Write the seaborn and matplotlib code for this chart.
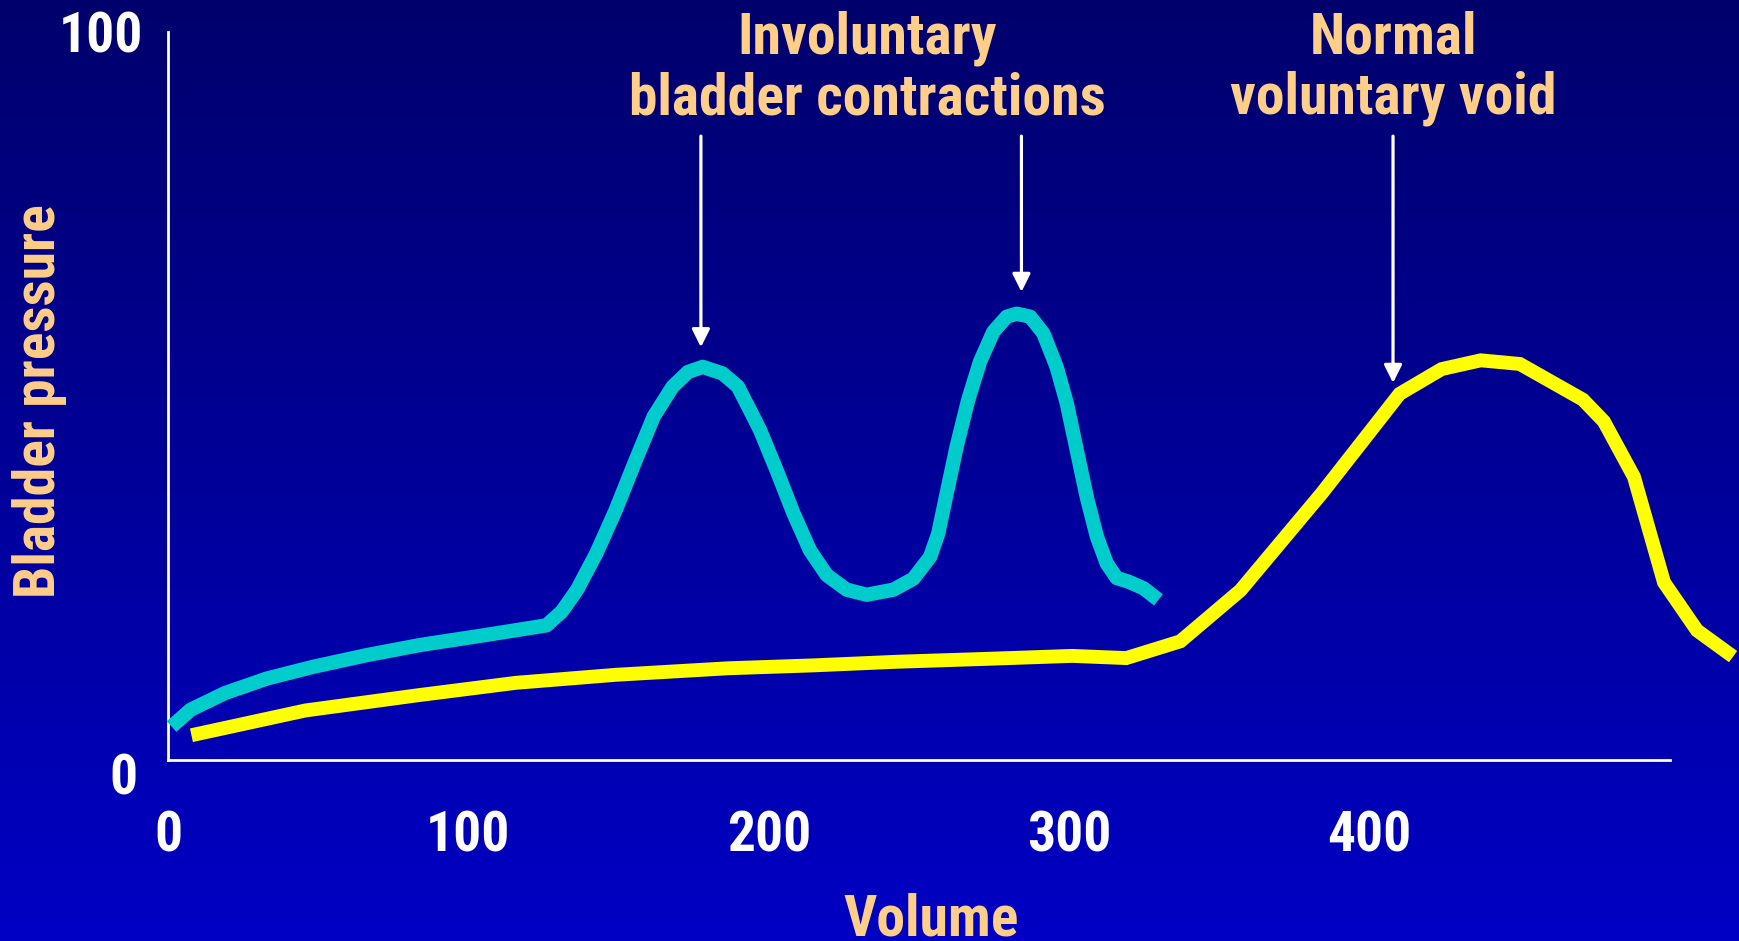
import numpy as np
import pandas as pd
import matplotlib
matplotlib.use("Agg")
import matplotlib.pyplot as plt
import matplotlib.transforms as mtransforms
from matplotlib import font_manager as fm
from matplotlib.colors import LinearSegmentedColormap
import seaborn as sns

# ---------------- data ----------------
vol_involuntary = [1.2, 7.5, 19.0, 33.0, 48.3, 66.1, 84.0, 103.1, 121.5, 126.0,
                   131.1, 136.2, 142.6, 149.0, 155.3, 161.7, 168.0, 173.1, 178.0,
                   184.6, 189.7, 194.8, 197.1, 202.6, 208.2, 213.7, 219.3, 225.9,
                   232.6, 241.5, 248.1, 253.7, 256.4, 259.2, 262.5, 266.4, 270.3,
                   274.7, 279.2, 282.5, 287.0, 291.4, 295.8, 299.2, 302.5, 305.8,
                   309.2, 312.5, 315.8, 319.7, 324.7, 329.7]
pres_involuntary = [4.6, 6.9, 9.2, 11.2, 12.8, 14.4, 15.8, 17.0, 18.2, 18.5,
                    20.4, 23.4, 28.4, 34.3, 40.8, 47.2, 51.3, 53.3, 54.0,
                    53.1, 51.3, 47.2, 45.3, 39.8, 33.9, 28.8, 25.4, 23.4,
                    22.7, 23.4, 24.9, 27.9, 31.1, 36.6, 43.0, 49.5, 54.7,
                    58.8, 60.9, 61.3, 60.9, 58.6, 54.0, 49.0, 42.6, 36.2,
                    30.7, 27.0, 25.0, 24.5, 23.6, 22.0]
vol_normal = [7.8, 45.7, 83.3, 115.8, 149, 186.5, 215, 243, 273, 301, 319, 337,
              357, 384, 410, 424, 437, 450, 471, 478, 488, 498, 509, 521]
pres_normal = [3.4, 6.8, 8.9, 10.6, 11.7, 12.6, 13.0, 13.5, 13.9, 14.3, 14.0,
               16.3, 23.3, 36.6, 50.3, 53.7, 54.9, 54.4, 49.5, 46.5, 38.9, 24.4,
               17.8, 14.2]
x_ticks = [0, 100, 200, 300, 400]
x_ticklabels = ["0", "100", "200", "300", "400"]
y_ticks = [0, 100]
y_ticklabels = ["0", "100"]
annot_texts = ["Involuntary\nbladder contractions", "Normal\nvoluntary void"]
annot_x = [232.7, 407.8]
arrow_x = [177.4, 284.1, 407.8]
arrow_tip_y = [56.7, 64.3, 51.8]

df_inv = pd.DataFrame({"Volume": vol_involuntary, "Pressure": pres_involuntary})
df_nor = pd.DataFrame({"Volume": vol_normal, "Pressure": pres_normal})

# ---------------- style ----------------
sns.set_theme(style="white")
available = {f.name for f in fm.fontManager.ttflist}
font_choice, fsize, tsize = "Liberation Sans", 36, 36
for cand, size, ts in [("Liberation Sans Narrow", 40, 40), ("Arial Narrow", 40, 40),
                       ("Roboto Condensed", 41.5, 40), ("Roboto", 37, 37)]:
    if cand in available:
        font_choice, fsize, tsize = cand, size, ts
        break
plt.rcParams["font.family"] = [font_choice, "DejaVu Sans"]
plt.rcParams["font.weight"] = "bold"

W, H = 1739, 941
fig = plt.figure(figsize=(W / 100, H / 100), dpi=100)

# gradient background
bg = fig.add_axes([0, 0, 1, 1], zorder=0)
cmap = LinearSegmentedColormap.from_list("bg", ["#00006C", "#0000C4"])
grad = np.linspace(0, 1, 256).reshape(-1, 1)
bg.imshow(grad, aspect="auto", cmap=cmap, extent=[0, 1, 0, 1], origin="upper")
bg.set_axis_off()

x0, xr, y0, yt = 168, 1739, 760, 32
ax = fig.add_axes([x0 / W, (H - y0) / H, (xr - x0) / W, (y0 - yt) / H], zorder=1)
ax.set_facecolor("none")
ax.patch.set_alpha(0)

sns.lineplot(data=df_inv, x="Volume", y="Pressure", sort=False, estimator=None,
             color="#00CCCC", linewidth=10.3, ax=ax, solid_capstyle="butt",
             solid_joinstyle="round", clip_on=False, zorder=3)
sns.lineplot(data=df_nor, x="Volume", y="Pressure", sort=False, estimator=None,
             color="#FFFF00", linewidth=10.0, ax=ax, solid_capstyle="butt",
             solid_joinstyle="miter", clip_on=False, zorder=3)

ax.set_xlim(0, (xr - x0) / 3.004)
ax.set_ylim(0, 100)

for s in ["top", "right"]:
    ax.spines[s].set_visible(False)
for s in ["left", "bottom"]:
    ax.spines[s].set_color("white")
    ax.spines[s].set_linewidth(2.0)
ax.spines["left"].set_bounds(0, 100)
ax.spines["bottom"].set_bounds(0, 500)

ax.set_xticks(x_ticks, x_ticklabels)
ax.set_yticks(y_ticks, y_ticklabels)
ax.tick_params(axis="x", direction="in", length=12, width=2, color="white",
               labelcolor="white", labelsize=tsize, pad=36)
ax.tick_params(axis="y", direction="in", length=8.5, width=2, color="white",
               labelcolor="white", labelsize=tsize, pad=18)
for lab in ax.get_xticklabels() + ax.get_yticklabels():
    lab.set_fontweight("bold")
ylabs = ax.get_yticklabels()
off = mtransforms.ScaledTranslation(-5 / 100, -14 / 100, fig.dpi_scale_trans)
ylabs[0].set_transform(ylabs[0].get_transform() + off)

label_color = "#FFCE88"
ax.set_xlabel("Volume", fontsize=fsize, fontweight="bold", color=label_color)
ax.xaxis.set_label_coords((931 - x0) / (xr - x0), (y0 - 892) / (y0 - yt))
ax.set_ylabel("Bladder pressure", fontsize=fsize, fontweight="bold", color=label_color)
ax.yaxis.set_label_coords((67 - x0) / (xr - x0), (y0 - 401) / (y0 - yt))

for txt, xa in zip(annot_texts, annot_x):
    ax.text(xa, 95.0, txt, ha="center", va="center", fontsize=fsize,
            fontweight="bold", color=label_color, linespacing=1.13,
            clip_on=False)

for xa, ty in zip(arrow_x, arrow_tip_y):
    ax.annotate("", xy=(xa, ty), xytext=(xa, 85.7),
                arrowprops=dict(arrowstyle="-|>,head_length=0.4,head_width=0.2",
                                color="white", lw=2.3, mutation_scale=27,
                                shrinkA=0, shrinkB=0),
                annotation_clip=False)

fig.savefig("out.png", dpi=100)
